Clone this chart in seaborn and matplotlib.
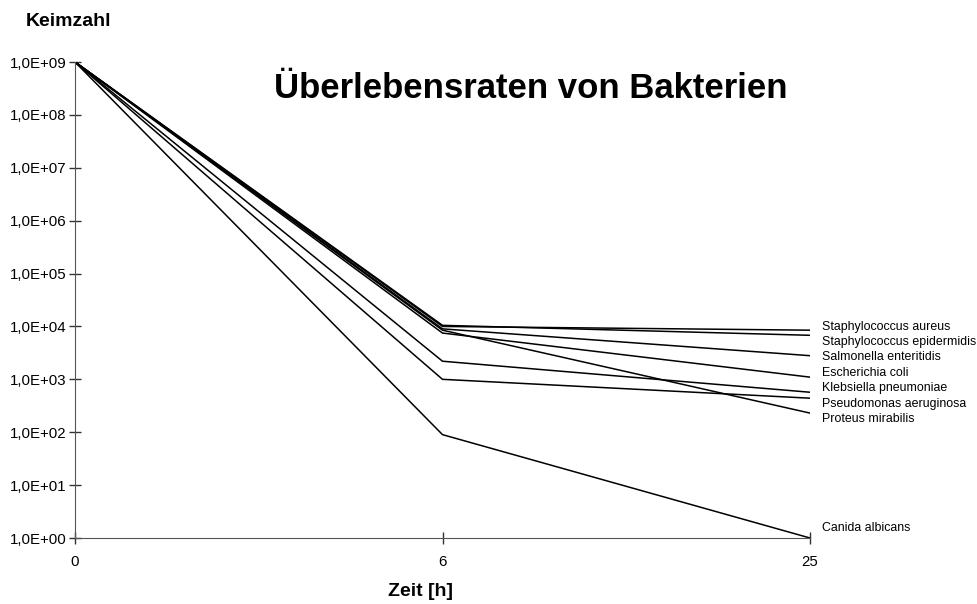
import numpy as np
import pandas as pd
import matplotlib
matplotlib.use('Agg')
import matplotlib.pyplot as plt
from matplotlib.ticker import FuncFormatter, FixedLocator, NullLocator
import seaborn as sns

# ── Data ────────────────────────────────────────
zeit = ['0', '6', '25']
arten = ['Staphylococcus aureus', 'Staphylococcus epidermidis', 'Salmonella enteritidis',
         'Escherichia coli', 'Klebsiella pneumoniae', 'Pseudomonas aeruginosa',
         'Proteus mirabilis', 'Canida albicans']
aureus      = [1e9, 1.0e4, 8.5e3]
epidermidis = [1e9, 1.05e4, 6.8e3]
salmonella  = [1e9, 9.0e3, 2.8e3]
ecoli       = [1e9, 7.5e3, 1.1e3]
klebsiella  = [1e9, 2.2e3, 5.7e2]
pseudomonas = [1e9, 1.0e3, 4.4e2]
proteus     = [1e9, 8.5e3, 2.3e2]
candida     = [1e9, 9.0e1, 1.0e0]
werte = [aureus, epidermidis, salmonella, ecoli, klebsiella, pseudomonas, proteus, candida]

# label nudges in pixels (dy, up = positive)
label_dy = [3, -7, -1, 4, 4, -6, -6, 10]

rows = []
for art, w in zip(arten, werte):
    for i, v in enumerate(w):
        rows.append({'pos': i, 'keimzahl': v, 'art': art})
df = pd.DataFrame(rows)

# ── Plot ────────────────────────────────────────
sns.set_style('white')
plt.rcParams['font.family'] = ['Liberation Sans', 'DejaVu Sans']
plt.rcParams['text.color'] = 'black'
plt.rcParams['xtick.color'] = 'black'
plt.rcParams['ytick.color'] = 'black'

fig = plt.figure(figsize=(9.77, 6.04), dpi=100)
ax = fig.add_axes([75/977, 66/604, 735/977, 476/604])

sns.lineplot(data=df, x='pos', y='keimzahl', hue='art', hue_order=arten,
             palette=['black'] * len(arten), linewidth=1.1, legend=False, ax=ax)

ax.set_yscale('log')
ax.set_ylim(1, 1e9)
ax.set_xlim(0, len(zeit) - 1)
ax.yaxis.set_major_locator(FixedLocator([10.0**k for k in range(10)]))
ax.yaxis.set_minor_locator(NullLocator())
ax.yaxis.set_major_formatter(FuncFormatter(lambda v, p: f'1,0E+{int(round(np.log10(v))):02d}'))
ax.set_xticks(range(len(zeit)))
ax.set_xticklabels(zeit)

for s in ['top', 'right']:
    ax.spines[s].set_visible(False)
ax.spines['left'].set_color('#555555')
ax.spines['bottom'].set_color('#555555')
ax.tick_params(axis='both', direction='inout', length=8, width=1, color='#333333',
               labelsize=10.8, left=True, bottom=True)
ax.tick_params(axis='y', pad=2)
ax.tick_params(axis='x', pad=8)
ax.set_xlabel('')
ax.set_ylabel('')

for art, w, dy in zip(arten, werte, label_dy):
    ax.annotate(art, xy=(len(zeit) - 1, w[-1]), xytext=(12, dy), textcoords='offset pixels',
                ha='left', va='center', fontsize=8.9, clip_on=False)

fig.text(26/977, 1 - 21/604, 'Keimzahl', fontsize=14, fontweight='bold', ha='left', va='center')
fig.text(421/977, 1 - 592/604, 'Zeit [h]', fontsize=14, fontweight='bold', ha='center', va='center')
fig.text(531/977, 1 - 88/604, 'Überlebensraten von Bakterien', fontsize=25,
         fontweight='bold', ha='center', va='center')

plt.savefig('out.png', dpi=100)
plt.close()
